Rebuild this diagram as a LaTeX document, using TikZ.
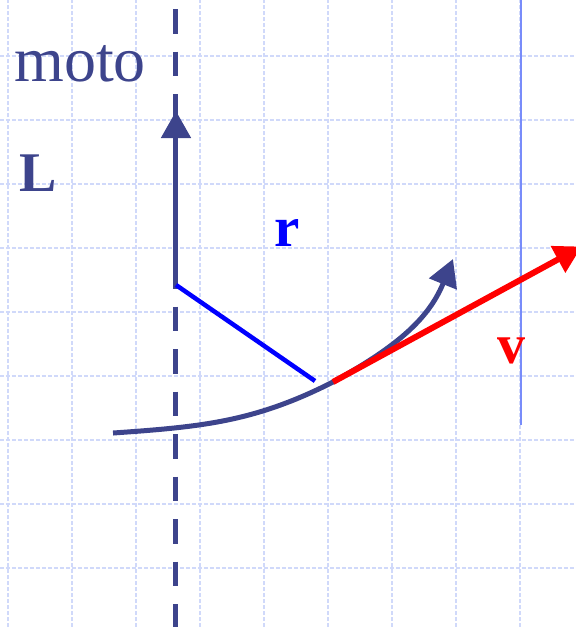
\documentclass[tikz,border=0pt]{standalone}
\usepackage{fontspec}
\setmainfont{Liberation Serif}
\usetikzlibrary{arrows.meta}
\definecolor{axisblue}{RGB}{61,68,140}
\definecolor{gridblue}{RGB}{208,217,250}
\definecolor{lineblue}{RGB}{120,140,250}
\tikzset{
  pointer/.style={-{Triangle[length=27pt,width=29pt]}},
  lab/.style={inner sep=0, anchor=base west},
}
\begin{document}
\begin{tikzpicture}[x=64pt, y=64pt]
    \useasboundingbox (-0.125,-0.922) rectangle (8.875,8.875);
    \clip (-0.125,-0.922) rectangle (8.875,8.875);
    \draw[step=1, gridblue, line width=1.4pt, dash pattern=on 4pt off 2pt] (-0.125,-0.922) grid (8.875,8.875);

    % Точки
    \coordinate (axtop) at (2.625,8.734);
    \coordinate (axbot) at (2.625,-0.922);
    \coordinate (O) at (2.625,4.422);
    \coordinate (Ltip) at (2.625,7.14);
    \coordinate (P) at (4.797,2.922);
    \coordinate (Q) at (5.078,2.906);
    \coordinate (Cstart) at (1.641,2.109);
    \coordinate (Ctip) at (6.953,4.828);
    \coordinate (Vtip) at (8.964,5.023);
    \coordinate (Htop) at (8.016,8.875);
    \coordinate (Hbot) at (8.016,2.234);

    % Тонкая вертикаль
    \draw[lineblue, line width=1.5pt] (Htop) -- (Hbot);

    % Ось вращения
    \draw[axisblue, line width=5pt, dash pattern=on 24.5pt off 18pt] (axtop) -- (axbot);

    % Момент импульса
    \draw[axisblue, line width=5pt, pointer] (O) -- (Ltip);

    % Радиус-вектор
    \draw[blue, line width=4.5pt] (O) -- (P);

    % Траектория
    \draw[axisblue, line width=5pt, pointer] (Cstart) to[out=4, in=207] (Q) to[out=29, in=248] (Ctip);

    % Скорость
    \draw[red, line width=6pt, pointer] (Q) -- (Vtip);

    \node[lab, axisblue, font=\fontsize{64}{64}\selectfont] (moto) at (0.094,7.609) {moto};
    \node[lab, axisblue, font=\fontsize{56}{56}\selectfont\bfseries] (labL) at (0.17,5.875) {L};
    \node[lab, blue, font=\fontsize{57}{57}\selectfont\bfseries] (labr) at (4.16,5.016) {r};
    \node[lab, red, font=\fontsize{56}{56}\selectfont\bfseries] (labv) at (7.64,3.188) {v};
\end{tikzpicture}
\end{document}
